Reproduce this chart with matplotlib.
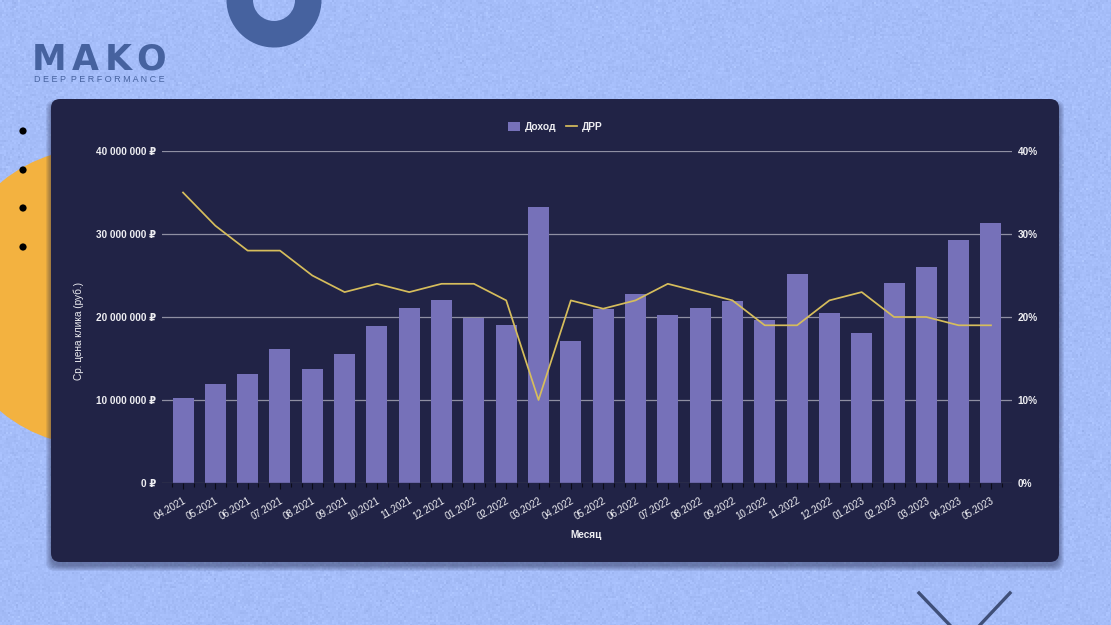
import matplotlib
matplotlib.use('Agg')
import matplotlib.pyplot as plt
from matplotlib.patches import Circle, FancyBboxPatch, Rectangle, Wedge
from matplotlib.ticker import FuncFormatter, MultipleLocator
import numpy as np

months = ['04.2021', '05.2021', '06.2021', '07.2021', '08.2021', '09.2021', '10.2021',
          '11.2021', '12.2021', '01.2022', '02.2022', '03.2022', '04.2022', '05.2022',
          '06.2022', '07.2022', '08.2022', '09.2022', '10.2022', '11.2022', '12.2022',
          '01.2023', '02.2023', '03.2023', '04.2023', '05.2023']
income = [10.2, 11.9, 13.1, 16.1, 13.7, 15.5, 18.9, 21.1, 22.0, 19.9, 19.0, 33.2, 17.1,
          21.0, 22.8, 20.3, 21.1, 21.9, 19.6, 25.2, 20.5, 18.1, 24.1, 26.0, 29.3, 31.3]
drr = [35, 31, 28, 28, 25, 23, 24, 23, 24, 24, 22, 10, 22,
       21, 22, 24, 23, 22, 19, 19, 22, 23, 20, 20, 19, 19]
income_ticks = [0, 10, 20, 30, 40]
drr_ticks = [0, 10, 20, 30, 40]

BG = '#a5bdf9'
PANEL = '#212346'
BAR = '#7671b9'
LINE = '#d6bd5c'
GRID = '#8f8fa3'
TEXT = '#eeeef2'
DECOR = '#46629f'

W, H = 1111, 625
plt.rcParams['font.family'] = ['Liberation Sans', 'DejaVu Sans']

fig = plt.figure(figsize=(W / 100, H / 100), dpi=100, facecolor=BG)

# декор в пиксельных координатах
deco = fig.add_axes([0, 0, 1, 1])
deco.set_xlim(0, W)
deco.set_ylim(H, 0)
deco.axis('off')

# зерно фона (только текстура, не данные)
rng = np.random.default_rng(3)
grain = rng.normal(0, 1, (H // 2 + 1, W // 2 + 1)).repeat(2, axis=0).repeat(2, axis=1)[:H, :W]
base = np.array(matplotlib.colors.to_rgb(BG))
texture = np.clip(base[None, None, :] + 0.014 * grain[:, :, None], 0, 1)
deco.imshow(texture, extent=(0, W, H, 0), aspect='auto', interpolation='bilinear', zorder=0)
deco.set_xlim(0, W)
deco.set_ylim(H, 0)

deco.add_patch(Circle((96, 297), 149, color='#f3b240', lw=0, zorder=1))
deco.add_patch(Wedge((274, 0), 47.5, 0, 360, width=26.5, color=DECOR, lw=0, zorder=1))
for y in [131, 170, 208, 247]:
    deco.add_patch(Circle((23, y), 3.6, color='black', lw=0, zorder=1))
deco.plot([919, 966], [593, 642], color='#3f4f78', lw=2.4, zorder=1)
deco.plot([1010, 964], [593, 642], color='#3f4f78', lw=2.4, zorder=1)

# логотип: буквы срезаны снизу
logo_clip = Rectangle((0, 0), 300, 69, transform=deco.transData)
for letter, lx in zip('MAKO', [32, 72, 105, 136]):
    t = deco.text(lx, 70, letter, color=DECOR, fontsize=25, fontweight='bold',
                  family='DejaVu Sans', va='baseline', ha='left', zorder=2)
    t.set_clip_path(logo_clip)
deco.text(34, 80, 'D E E P  P E R F O R M A N C E', color=DECOR, fontsize=6.5,
          va='center', ha='left', zorder=2)

# панель с тенью, смещена вниз
for i in range(6):
    deco.add_patch(FancyBboxPatch((51 - i, 105 - i), 1008 + 2 * i, 461 + 2 * i,
                                  boxstyle='round,pad=0,rounding_size=9',
                                  fc='#20264a', ec='none', alpha=0.09, zorder=3))
deco.add_patch(FancyBboxPatch((51, 99), 1008, 463, boxstyle='round,pad=0,rounding_size=9',
                              fc=PANEL, ec='none', zorder=4))

ax = fig.add_axes([162 / W, (H - 483) / H, 850 / W, 332 / H])
ax.patch.set_alpha(0)
x = np.arange(len(months))
bars = ax.bar(x, income, width=0.65, color=BAR, label='Доход', zorder=3)
ax.set_xlim(-0.65, len(months) - 0.35)
ax.set_ylim(0, 40)
ax.set_yticks(income_ticks)
ax.yaxis.set_major_formatter(FuncFormatter(lambda v, p: f'{int(v)} 000 000 ₽' if v else '0 ₽'))
ax.set_xticks(x)
ax.set_xticklabels(months, rotation=30, ha='right', rotation_mode='anchor')
ax.xaxis.set_minor_locator(MultipleLocator(1 / 3))
ax.tick_params(axis='x', which='major', length=4, color='#0c0c18', labelcolor=TEXT,
               labelsize=7, pad=5, width=0.8)
ax.tick_params(axis='x', which='minor', length=3, color='#0c0c18', width=0.8)
ax.tick_params(axis='y', length=0, labelcolor=TEXT, labelsize=7.2, pad=4)
for lab in ax.get_yticklabels():
    lab.set_fontweight('bold')
ax.grid(axis='y', color=GRID, lw=0.9, zorder=0)
ax.set_axisbelow(True)
for s in ax.spines.values():
    s.set_visible(False)
ax.axhline(0, color='#0c0c18', lw=0.9, zorder=4)
ax.set_xlabel('Месяц', color=TEXT, fontsize=7.2, fontweight='bold', va='center')
ax.xaxis.set_label_coords((586 - 162) / 850, -(535 - 483) / 332)
ax.set_ylabel('Ср. цена клика (руб.)', color=TEXT, fontsize=7.2, va='center')
ax.yaxis.set_label_coords((79 - 162) / 850, (483 - 331) / 332)

ax2 = ax.twinx()
ax2.patch.set_alpha(0)
line, = ax2.plot(x, drr, color=LINE, lw=1.25, label='ДРР', zorder=5)
ax2.set_ylim(0, 40)
ax2.set_yticks(drr_ticks)
ax2.yaxis.set_major_formatter(FuncFormatter(lambda v, p: f'{int(v)}%'))
ax2.tick_params(axis='y', length=0, labelcolor=TEXT, labelsize=7.2, pad=4)
for lab in ax2.get_yticklabels():
    lab.set_fontweight('bold')
for s in ax2.spines.values():
    s.set_visible(False)

leg = ax2.legend([bars, line], ['Доход', 'ДРР'], loc='center', ncol=2, frameon=False,
                 bbox_to_anchor=((555.5 - 162) / 850, 1 + 24 / 332),
                 labelcolor=TEXT, handlelength=1.1, handletextpad=0.5, columnspacing=0.9,
                 handleheight=1.0, prop={'weight': 'bold', 'size': 7.4})

fig.savefig('out.png', dpi=100, facecolor=BG)
plt.close(fig)
